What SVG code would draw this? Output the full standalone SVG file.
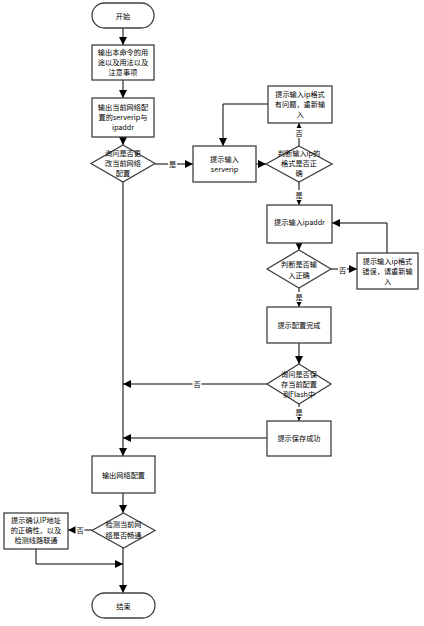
<svg xmlns="http://www.w3.org/2000/svg" width="424" height="626" viewBox="0 0 424 626">
<defs>
<marker id="ah" markerUnits="userSpaceOnUse" markerWidth="8" markerHeight="8" refX="8" refY="4" orient="auto">
<path d="M0,0 L8,4 L0,8 Z" fill="#000"/>
</marker>
<style>
.n{fill:#fff;stroke:#404040;stroke-width:1.3}
.t{font-family:"Noto Sans CJK SC","Liberation Sans",sans-serif;font-size:7.2px;fill:#000;text-anchor:middle}
.c{fill:none;stroke:#000;stroke-width:1}
.a{marker-end:url(#ah)}
.lb{fill:#fff}
</style>
</defs>
<rect width="424" height="626" fill="#fff"/>
<g id="connectors">
<path class="c a" d="M123,28 V45"/>
<path class="c a" d="M123,80 V98"/>
<path class="c a" d="M123,137 V145"/>
<path class="c a" d="M155,164 H193"/>
<path class="c a" d="M256,164 H266"/>
<path class="c a" d="M299,146 V123"/>
<path class="c a" d="M268,104 H223 V146"/>
<path class="c a" d="M299,182 V205"/>
<path class="c a" d="M299,243 V250"/>
<path class="c a" d="M331,269 H357"/>
<path class="c a" d="M387,253 V223 H332"/>
<path class="c a" d="M299,288 V307"/>
<path class="c a" d="M299,343 V364"/>
<path class="c a" d="M268,384 H123"/>
<path class="c a" d="M299,404 V421"/>
<path class="c a" d="M267,438 H123"/>
<path class="c a" d="M123,182 V456"/>
<path class="c a" d="M123,493 V513"/>
<path class="c a" d="M92,530 H68"/>
<path class="c a" d="M36,549 V564 H123"/>
<path class="c a" d="M123,548 V593"/>
<rect class="lb" x="168" y="159" width="9" height="10"/><text class="t" x="172.5" y="166.5">是</text>
<rect class="lb" x="294.5" y="128" width="9" height="10"/><text class="t" x="299" y="135.5">否</text>
<rect class="lb" x="294.5" y="190" width="9" height="10"/><text class="t" x="299" y="197.5">是</text>
<rect class="lb" x="338" y="265" width="9" height="10"/><text class="t" x="342.5" y="272.5">否</text>
<rect class="lb" x="294.5" y="292" width="9" height="10"/><text class="t" x="299" y="299.5">是</text>
<rect class="lb" x="192.5" y="379" width="9" height="10"/><text class="t" x="197" y="386.5">否</text>
<rect class="lb" x="294.5" y="407" width="9" height="10"/><text class="t" x="299" y="414.5">是</text>
<rect class="lb" x="75.5" y="525" width="9" height="10"/><text class="t" x="80" y="532.5">否</text>
</g>
<g id="start"><rect class="n" x="92" y="3" width="62" height="25" rx="12.5"/><text class="t" x="123" y="18.5">开始</text></g>
<g id="usage"><rect class="n" x="92" y="45" width="62" height="35"/><text class="t" x="123" y="54.5">输出本命令的用</text><text class="t" x="123" y="64.5">途以及用法以及</text><text class="t" x="123" y="74.5">注意事项</text></g>
<g id="showcfg"><rect class="n" x="92" y="98" width="62" height="39"/><text class="t" x="123" y="109.5">输出当前网络配</text><text class="t" x="123" y="119.5">置的serverip与</text><text class="t" x="123" y="129.5">ipaddr</text></g>
<g id="askchange"><path class="n" d="M123,145 L155,163.5 L123,182 L91,163.5 Z"/><text class="t" x="123" y="155.5">询问是否更</text><text class="t" x="123" y="165.5">改当前网络</text><text class="t" x="123" y="175.5">配置</text></g>
<g id="inputserver"><rect class="n" x="193" y="146" width="63" height="36"/><text class="t" x="224.5" y="161.5">提示输入</text><text class="t" x="224.5" y="171.5">serverip</text></g>
<g id="checkip"><path class="n" d="M299,146 L332,164 L299,182 L266,164 Z"/><text class="t" x="299" y="155.5">判断输入ip的</text><text class="t" x="299" y="165.5">格式是否正</text><text class="t" x="299" y="175.5">确</text></g>
<g id="iperr1"><rect class="n" x="268" y="86" width="64" height="37"/><text class="t" x="300" y="97">提示输入ip格式</text><text class="t" x="300" y="107">有问题，重新输</text><text class="t" x="300" y="117">入</text></g>
<g id="inputaddr"><rect class="n" x="267" y="205" width="65" height="38"/><text class="t" x="299.5" y="224.5">提示输入ipaddr</text></g>
<g id="checkaddr"><path class="n" d="M299,250 L331,269 L299,288 L267,269 Z"/><text class="t" x="299" y="266.5">判断是否输</text><text class="t" x="299" y="277.5">入正确</text></g>
<g id="iperr2"><rect class="n" x="357" y="253" width="61" height="36"/><text class="t" x="387.5" y="263.5">提示输入ip格式</text><text class="t" x="387.5" y="273.5">错误，请重新输</text><text class="t" x="387.5" y="283.5">入</text></g>
<g id="cfgdone"><rect class="n" x="267" y="307" width="64" height="36"/><text class="t" x="299" y="327.5">提示配置完成</text></g>
<g id="asksave"><path class="n" d="M299,364 L331,384 L299,404 L267,384 Z"/><text class="t" x="299" y="376.5">询问是否保</text><text class="t" x="299" y="386.5">存当前配置</text><text class="t" x="299" y="396.5">到Flash中</text></g>
<g id="saveok"><rect class="n" x="267" y="421" width="64" height="35"/><text class="t" x="299" y="441">提示保存成功</text></g>
<g id="printcfg"><rect class="n" x="92" y="456" width="63" height="37"/><text class="t" x="123.5" y="477.5">输出网络配置</text></g>
<g id="checknet"><path class="n" d="M123.5,513 L155,530.5 L123.5,548 L92,530.5 Z"/><text class="t" x="123.5" y="526.5">检测当前网</text><text class="t" x="123.5" y="537.5">络是否畅通</text></g>
<g id="confirmip"><rect class="n" x="4" y="513" width="64" height="36"/><text class="t" x="36" y="523">提示确认IP地址</text><text class="t" x="36" y="533">的正确性，以及</text><text class="t" x="36" y="543">检测线路联通</text></g>
<g id="end"><rect class="n" x="92" y="593" width="63" height="25" rx="12.5"/><text class="t" x="123.5" y="608.5">结束</text></g>
</svg>
